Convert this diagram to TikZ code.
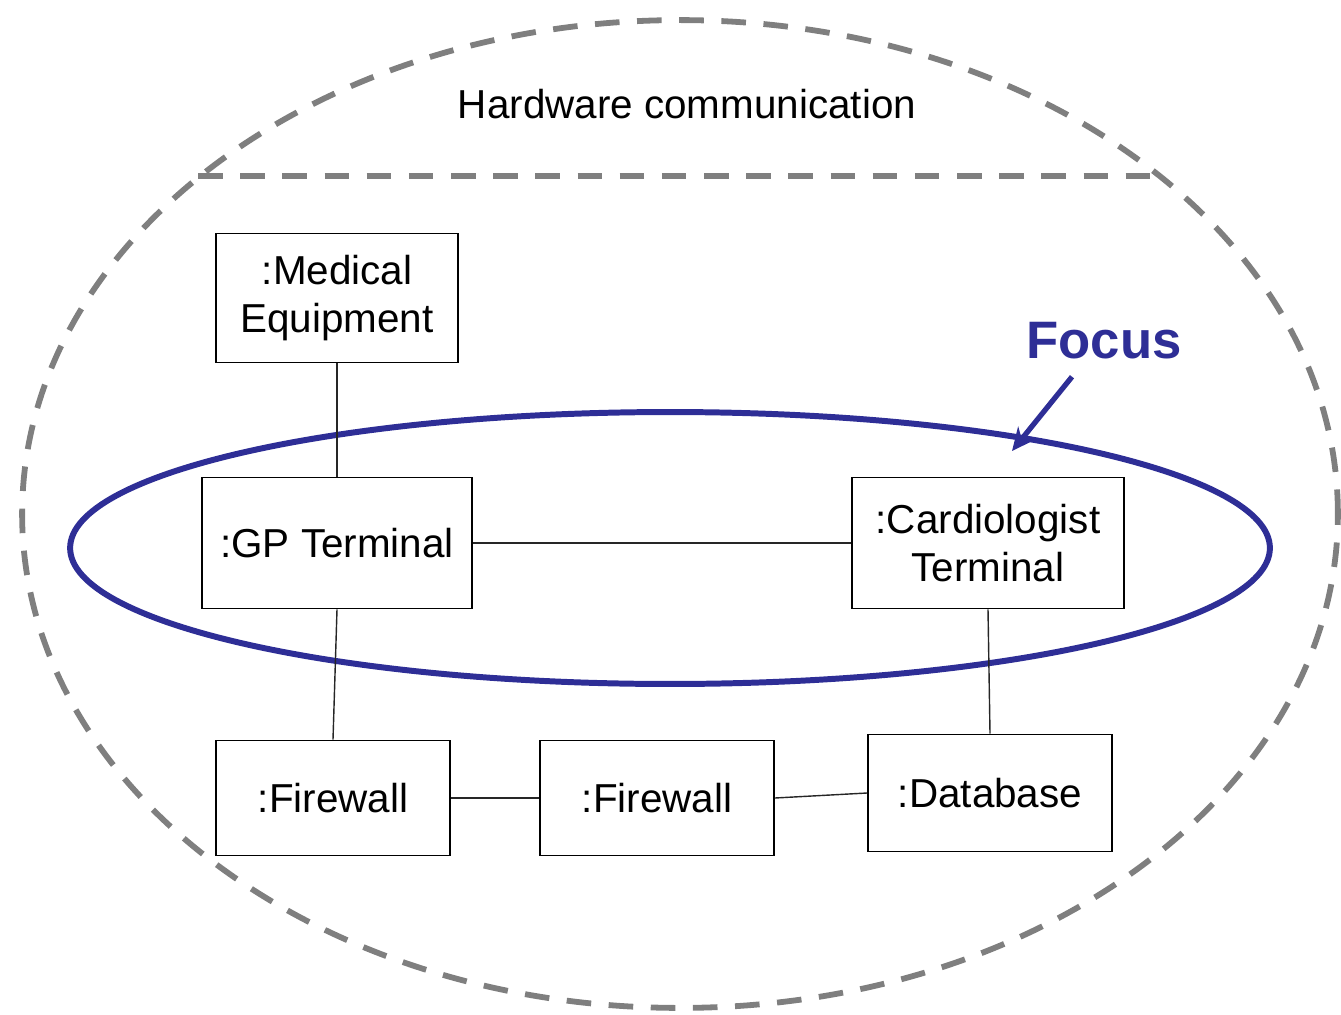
\documentclass[tikz,border=0pt]{standalone}
\usepackage{fontspec}
\setmainfont{Liberation Sans}
\usepackage{tikz}
\usetikzlibrary{arrows.meta, positioning, calc}
\definecolor{hwgray}{HTML}{7F7F7F}
\definecolor{focusblue}{HTML}{2E2E96}

\begin{document}
\begin{tikzpicture}[
  x=0.02cm, y=-0.02cm,
  hwline/.style={draw=hwgray, line width=3.3pt, dash pattern=on 14pt off 10pt},
  objbox/.style={rectangle, draw=black, line width=1.1pt, fill=white, inner sep=0pt, align=center, minimum width=#1, font=\fontsize{23}{27}\selectfont},
  link/.style={draw=black!85, line width=0.8pt}
]
  \useasboundingbox (0,0) rectangle (1341,1014);

  % Hardware communication boundary
  \draw[hwline] (680,514) ellipse [x radius=13.16cm, y radius=9.88cm];
  \coordinate (hwleft) at (198,176);
  \coordinate (hwright) at (1152,176);
  \draw[hwline] (hwleft) -- (hwright);
  \node[font=\fontsize{23}{27}\selectfont] (hwtitle) at (687,104) {Hardware communication};

  % Focus
  \draw[focusblue, line width=3.4pt] (670,548) ellipse [x radius=12cm, y radius=2.72cm];
  \node[font=\fontsize{30}{34}\selectfont\bfseries, text=focusblue, inner sep=0pt] (focus) at (1104,341) {Focus};
  \coordinate (focustip) at (1012,451);
  \draw[focusblue, line width=3pt, -{Stealth[length=13pt, width=12pt]}] ([xshift=-0.64cm, yshift=-0.34cm]focus.south) -- (focustip);

  % Objects
  \node[objbox=4.84cm, minimum height=2.58cm] (med) at (337,298) {:Medical\\Equipment};
  \node[objbox=5.4cm, minimum height=2.62cm] (gp) at (337,543) {:GP Terminal};
  \node[objbox=5.44cm, minimum height=2.62cm] (card) at (988,543) {:Cardiologist\\Terminal};
  \node[objbox=4.68cm, minimum height=2.3cm] (fwa) at (333,798) {:Firewall};
  \node[objbox=4.68cm, minimum height=2.3cm] (fwb) at (657,798) {:Firewall};
  \node[objbox=4.88cm, minimum height=2.34cm] (db) at (990,793) {:Database};

  % Links
  \draw[link] (med.south) -- (gp.north);
  \draw[link] (gp.south) -- (fwa.north);
  \draw[link] (gp.east) -- (card.west);
  \draw[link] (card.south) -- (db.north);
  \draw[link] (fwa.east) -- (fwb.west);
  \draw[link] (fwb.east) -- (db.west);
\end{tikzpicture}
\end{document}
